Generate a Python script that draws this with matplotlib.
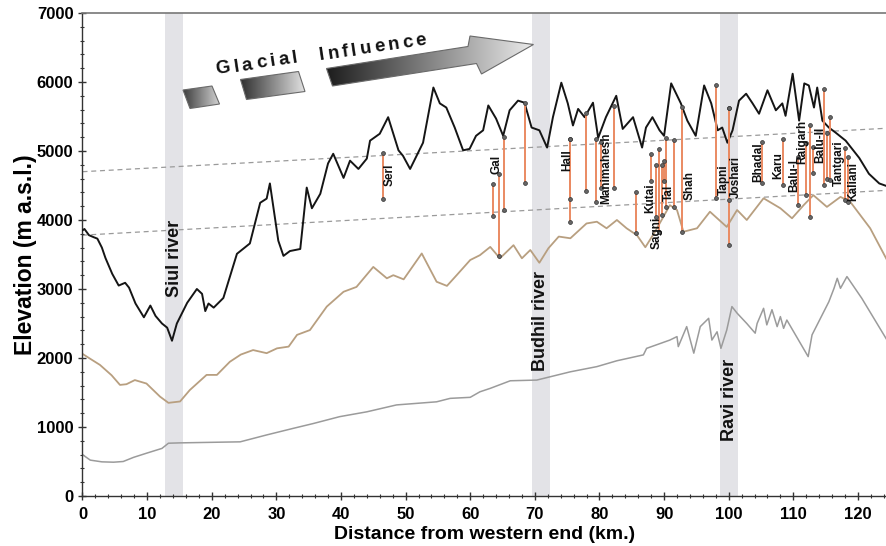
import numpy as np
import matplotlib
matplotlib.use("Agg")
import matplotlib.pyplot as plt
from matplotlib.patches import Polygon
from matplotlib.colors import LinearSegmentedColormap
from matplotlib.textpath import TextToPath
from matplotlib.font_manager import FontProperties
from matplotlib.ticker import MultipleLocator

plt.rcParams['font.family'] = ['Liberation Sans', 'DejaVu Sans']

# ---- Ridge-crest (maximum) elevation profile ----
ridge_km = [0.0, 0.3, 1.0, 1.75, 2.3, 3.0, 3.55, 4.6, 5.6, 6.6, 7.2, 8.2, 9.5, 10.5, 11.3,
            12.3, 13.1, 13.85, 14.6, 16.2, 17.7, 18.5, 19.0, 19.5, 20.3, 21.8, 23.9, 25.9,
            27.5, 28.5, 29.0, 30.3, 31.1, 32.1, 33.7, 34.7, 35.5, 36.8, 38.0, 38.8, 40.4,
            41.4, 42.7, 44.0, 44.5, 46.0, 47.3, 48.9, 49.6, 50.7, 51.7, 52.7, 54.3, 55.3,
            56.3, 57.6, 58.9, 59.9, 60.9, 62.0, 62.8, 64.0, 65.1, 66.1, 67.4, 68.4, 69.5,
            70.7, 71.9, 72.8, 74.1, 75.1, 75.9, 76.7, 77.7, 79.0, 79.8, 81.0, 82.6, 83.6,
            85.2, 86.6, 87.2, 88.2, 89.3, 90.0, 91.1, 92.6, 93.6, 94.9, 96.2, 97.3, 98.3,
            99.0, 99.8, 100.6, 101.6, 102.7, 103.7, 104.7, 106.0, 107.3, 108.3, 108.8,
            109.9, 110.9, 111.7, 112.4, 113.2, 113.7, 114.5, 115.5, 116.5, 118.1, 120.2,
            121.7, 123.3, 124.5]
ridge_elev = [3850, 3870, 3780, 3750, 3730, 3600, 3450, 3220, 3050, 3090, 3020, 2790, 2590,
              2760, 2610, 2500, 2440, 2250, 2500, 2800, 3000, 2930, 2680, 2790, 2730, 2870,
              3510, 3660, 4250, 4310, 4530, 3700, 3480, 3550, 3580, 4470, 4170, 4380, 4820,
              4960, 4610, 4860, 4740, 4890, 5150, 5250, 5490, 5010, 4930, 4740, 4930, 5120,
              5920, 5690, 5630, 5340, 5010, 5030, 5220, 5300, 5660, 5470, 5220, 5590, 5730,
              5700, 5340, 5300, 5050, 5490, 5990, 5690, 5370, 5610, 5490, 5700, 5190, 5490,
              5800, 5320, 5490, 5050, 5340, 5490, 5300, 5220, 5980, 5690, 5440, 5220, 5950,
              5690, 5300, 5340, 5120, 5300, 5730, 5830, 5690, 5540, 5880, 5590, 5690, 5510,
              6120, 5440, 5980, 5950, 5630, 5920, 5440, 5340, 5270, 5150, 4900, 4670, 4530,
              4490]

# ---- Mean elevation profile ----
mean_km = [0.0, 1.0, 2.7, 4.5, 5.8, 6.8, 8.1, 9.9, 12.0, 13.3, 15.1, 16.6, 19.2, 20.8, 22.8,
           24.5, 26.4, 28.5, 30.1, 31.9, 33.2, 35.2, 37.8, 40.4, 42.4, 45.0, 47.1, 48.1,
           49.7, 52.5, 54.8, 56.4, 57.9, 60.0, 61.5, 63.1, 64.6, 66.7, 68.0, 69.3, 70.7,
           72.1, 73.7, 75.5, 78.0, 79.6, 81.1, 82.7, 84.2, 85.8, 87.1, 88.6, 90.9, 92.0,
           93.0, 95.1, 97.1, 99.7, 101.3, 102.8, 105.4, 108.0, 109.8, 111.6, 113.1, 115.2,
           117.3, 118.8, 121.9, 124.5]
mean_elev = [2060, 2000, 1900, 1750, 1610, 1620, 1680, 1630, 1440, 1350, 1370, 1535, 1755,
             1755, 1945, 2050, 2115, 2070, 2140, 2165, 2335, 2405, 2745, 2960, 3030, 3320,
             3155, 3200, 3140, 3515, 3105, 3045, 3200, 3420, 3490, 3610, 3445, 3635, 3445,
             3565, 3380, 3590, 3760, 3735, 3950, 3975, 3880, 4000, 3880, 3780, 3605, 3830,
             4215, 4145, 3830, 3880, 4120, 3900, 4145, 4000, 4315, 4170, 4025, 4215, 4360,
             4190, 4335, 4265, 3880, 3420]

# ---- Valley-floor (minimum) elevation profile ----
min_km = [0.0, 1.2, 3.0, 4.8, 6.3, 7.9, 9.9, 12.3, 13.3, 15.1, 24.4, 28.5, 32.6, 35.7, 39.8,
          44.0, 48.6, 54.8, 56.9, 60.0, 61.5, 63.1, 66.2, 70.3, 75.5, 79.6, 82.7, 86.8, 87.3,
          90.9, 92.0, 92.2, 93.5, 94.6, 95.6, 96.9, 97.4, 98.2, 98.8, 99.7, 100.5, 101.3,
          102.8, 104.1, 104.4, 105.4, 105.9, 106.7, 107.5, 108.0, 108.5, 109.0, 112.3,
          112.9, 115.5, 116.3, 116.8, 117.3, 118.3, 120.6, 124.5]
min_elev = [600, 520, 495, 490, 500, 560, 620, 690, 765, 770, 785, 885, 980, 1050, 1150, 1220,
            1320, 1365, 1415, 1430, 1510, 1560, 1670, 1680, 1800, 1875, 1960, 2045, 2140,
            2260, 2310, 2165, 2455, 2070, 2455, 2575, 2260, 2380, 2140, 2405, 2745, 2650,
            2500, 2360, 2500, 2720, 2480, 2700, 2455, 2600, 2430, 2550, 2020, 2335, 2815,
            3010, 3155, 3010, 3180, 2865, 2260]

# ---- Glaciers: position along profile, upper and lower elevation ----
glacier_km = [46.5, 63.6, 64.4, 65.2, 68.5, 75.5, 75.5, 77.9, 79.4, 80.2, 82.2, 85.7, 88.0,
              88.8, 89.2, 89.7, 90.0, 90.3, 91.5, 92.8, 98.1, 100.1, 100.1, 105.1, 108.4,
              110.7, 112.0, 112.6, 113.0, 114.7, 115.2, 115.7, 118.0, 118.4]
glacier_top = [4975, 4520, 4665, 5205, 5690, 5180, 5180, 5545, 5170, 5135, 5655, 4410, 4950,
               4795, 5025, 4795, 4860, 5190, 5160, 5640, 5955, 5620, 5620, 5135, 5170, 4915,
               5110, 5375, 5060, 5905, 5255, 5495, 5040, 4915]
glacier_bottom = [4300, 4060, 3480, 4145, 4540, 3975, 4300, 4420, 4265, 4470, 4470, 3805,
                  4570, 4050, 3830, 4070, 4570, 4190, 4190, 3820, 4320, 3635, 4290, 4530,
                  4505, 4215, 4360, 4050, 4675, 4505, 4600, 4580, 4290, 4265]

glacier_names = ["Serl", "Gal", "Hall", "Manimahesh", "Kutai", "Sagni", "Tal", "Shah",
                 "Tapni", "Joshari", "Bhadal", "Karu", "Balu-I", "Raigarh", "Balu-II",
                 "Tantgari", "Kaliani"]
name_km = [47.6, 64.0, 75.0, 81.1, 87.8, 88.8, 90.8, 93.9, 99.2, 101.1, 104.5, 107.7, 110.1,
           111.4, 114.1, 117.0, 119.3]
name_elev = [4650, 4800, 4870, 4750, 4320, 3810, 4390, 4505, 4580, 4630, 4845, 4795, 4650,
             5135, 5085, 4820, 4555]

# ---- Rivers crossing the profile ----
river_names = ["Siul river", "Budhil river", "Ravi river"]
river_span = [(12.8, 15.6), (69.5, 72.3), (98.7, 101.5)]
river_label_elev = [3450, 2540, 1390]

# ---- Regional trend lines (dashed) ----
trend_km = [0.0, 124.5]
upper_trend = [4700, 5330]
lower_trend = [3780, 4430]

W, H, DPI = 887, 546, 100
fig = plt.figure(figsize=(W / DPI, H / DPI), dpi=DPI)
x0, x1, ytop, ybot = 82.5, 887.0, 13.0, 496.0
ax = fig.add_axes([x0 / W, 1 - ybot / H, (x1 - x0) / W, (ybot - ytop) / H])
ax.set_xlim(0, 124.5)
ax.set_ylim(0, 7000)

for (a, b), name, ey in zip(river_span, river_names, river_label_elev):
    ax.axvspan(a, b, color='#e3e3e7', lw=0, zorder=0)
    ax.text((a + b) / 2, ey, name, rotation=90, ha='center', va='center',
            fontsize=13, fontweight='bold', color='#111111', zorder=6)

ax.plot(trend_km, upper_trend, ls=(0, (4, 3)), color='#9a9a9a', lw=0.9, zorder=1)
ax.plot(trend_km, lower_trend, ls=(0, (4, 3)), color='#9a9a9a', lw=0.9, zorder=1)

ax.plot(min_km, min_elev, color='#9b9b9b', lw=1.1, zorder=2)
ax.plot(mean_km, mean_elev, color='#b89f80', lw=1.3, zorder=2)
ax.plot(ridge_km, ridge_elev, color='#151515', lw=1.4, zorder=3)

for gx, gt, gb in zip(glacier_km, glacier_top, glacier_bottom):
    ax.plot([gx, gx], [gb, gt], color='#ea8a62', lw=1.4, zorder=4)
    ax.plot([gx, gx], [gb, gt], ls='none', marker='o', ms=2.8,
            mfc='#666666', mec='#333333', mew=0.5, zorder=5)

for name, nx, ny in zip(glacier_names, name_km, name_elev):
    ax.text(nx, ny, name, rotation=90, ha='center', va='center',
            fontsize=8.5, fontweight='bold', color='#111111', zorder=6)

ax.xaxis.set_major_locator(MultipleLocator(10))
ax.xaxis.set_minor_locator(MultipleLocator(2))
ax.yaxis.set_major_locator(MultipleLocator(1000))
ax.yaxis.set_minor_locator(MultipleLocator(200))
ax.tick_params(axis='both', which='major', direction='inout', length=6, width=1.0,
               labelsize=12, color='#333333')
ax.tick_params(axis='x', which='major', pad=5)
ax.tick_params(axis='both', which='minor', direction='inout', length=3.5, width=0.8,
               color='#333333')
for lab in ax.get_xticklabels() + ax.get_yticklabels():
    lab.set_fontweight('bold')
ax.spines['right'].set_visible(False)
for s in ('left', 'bottom'):
    ax.spines[s].set_color('#333333')
    ax.spines[s].set_linewidth(1.0)
ax.spines['top'].set_color('#777777')
ax.spines['top'].set_linewidth(1.2)

ax.set_xlabel('Distance from western end (km.)', fontsize=14, fontweight='bold', labelpad=3)
ax.set_ylabel('Elevation (m a.s.l.)', fontsize=16.5, fontweight='bold', labelpad=0)

# ---- "Glacial Influence" arrow drawn in figure pixel space ----
ov = fig.add_axes([0, 0, 1, 1], zorder=10)
ov.set_xlim(0, W)
ov.set_ylim(H, 0)
ov.axis('off')
ov.patch.set_alpha(0)


def gradient_shape(verts, c_dark, c_light):
    verts = np.asarray(verts, float)
    poly = Polygon(verts, closed=True, fc='none', ec='#6a6a6a', lw=0.8, zorder=3)
    ov.add_patch(poly)
    cmap = LinearSegmentedColormap.from_list('g', [c_dark, c_light])
    xmin, xmax = verts[:, 0].min(), verts[:, 0].max()
    ymin, ymax = verts[:, 1].min(), verts[:, 1].max()
    grad = np.linspace(0, 1, 256).reshape(1, -1)
    im = ov.imshow(grad, cmap=cmap, extent=[xmin, xmax, ymax, ymin], aspect='auto',
                   interpolation='bilinear', zorder=2)
    im.set_clip_path(poly)


gradient_shape([(183, 90), (212, 86), (219.5, 104), (190, 108.5)], '#3c3c3c', '#d4d4d4')
gradient_shape([(240.5, 79.5), (298.5, 71.5), (305, 91.5), (246.5, 99.5)], '#2e2e2e', '#e2e2e2')
gradient_shape([(326.5, 68.5), (468, 46.5), (470, 36), (533.5, 44.5), (481.5, 74),
                (476.5, 63.5), (332.5, 86)], '#1c1c1c', '#ebebeb')

fp = FontProperties(family='Liberation Sans', weight='bold', size=13.5)
ttp = TextToPath()
theta = np.deg2rad(8.5)
px_per_pt = DPI / 72.0


def spaced_word(word, start, extra):
    for i, ch in enumerate(word):
        w = ttp.get_text_width_height_descent(word[:i], fp, ismath=False)[0] if i else 0.0
        d = w * px_per_pt + i * extra
        ov.text(start[0] + d * np.cos(theta), start[1] - d * np.sin(theta), ch,
                fontproperties=fp, rotation=8.5, rotation_mode='anchor',
                ha='left', va='baseline', color='#111111', zorder=4)


spaced_word('Glacial', (216.5, 74.5), 3.5)
spaced_word('Influence', (320, 60.5), 3.2)

fig.savefig('out.png', dpi=DPI)
